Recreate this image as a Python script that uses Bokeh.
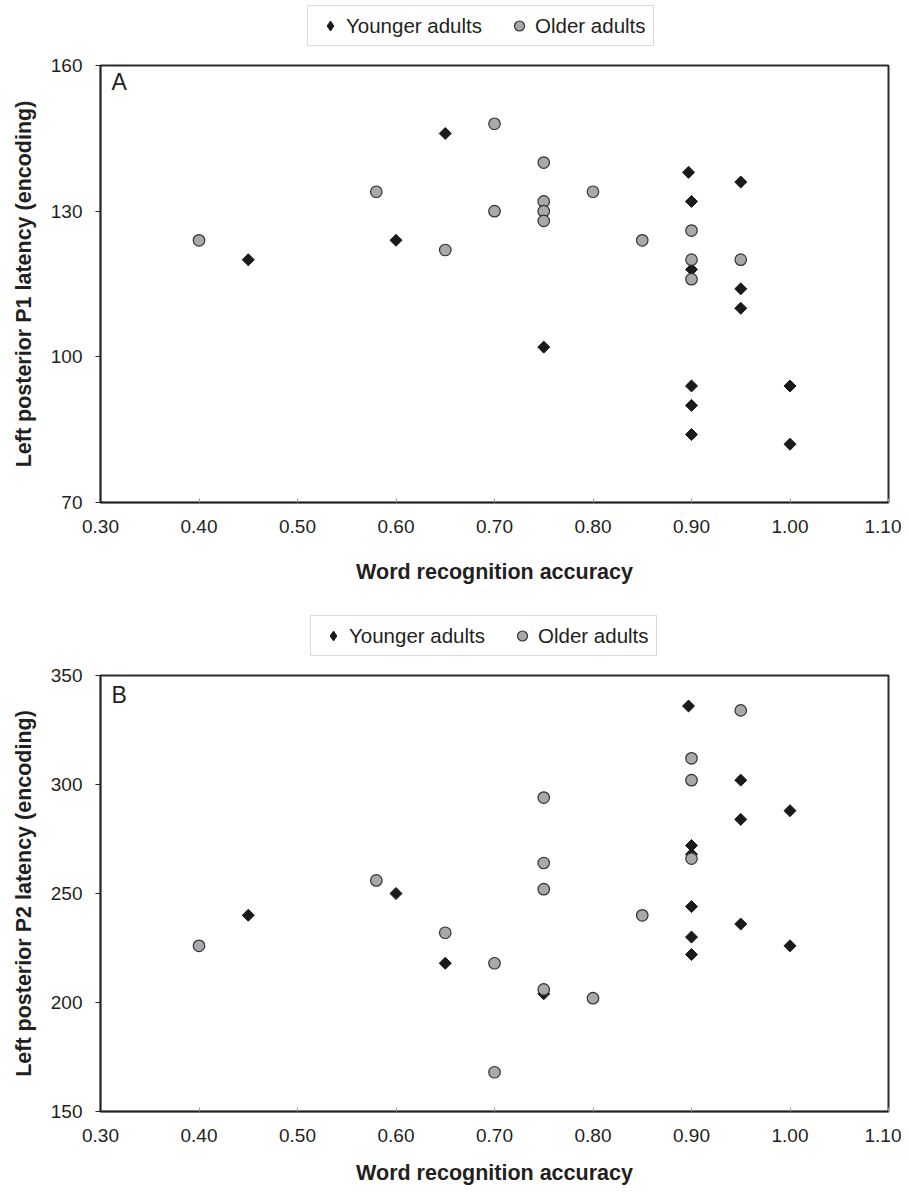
import math
from bokeh.plotting import figure
from bokeh.layouts import column
from bokeh.models import (Range1d, FixedTicker, NumeralTickFormatter, Legend,
                          LegendItem, Label)
from bokeh.embed import file_html
from bokeh.resources import INLINE

# ---------------- data ----------------
x_ticks = [0.30, 0.40, 0.50, 0.60, 0.70, 0.80, 0.90, 1.00, 1.10]
series_names = ["Younger adults", "Older adults"]

# Panel A: P1 latency
a_young_x = [0.45, 0.60, 0.65, 0.75, 0.897, 0.90, 0.90, 0.90, 0.90, 0.90, 0.95, 0.95, 0.95, 1.00, 1.00]
a_young_y = [120, 124, 146, 102, 138, 132, 118, 94, 90, 84, 136, 114, 110, 94, 82]
a_old_x = [0.40, 0.58, 0.65, 0.70, 0.70, 0.75, 0.75, 0.75, 0.75, 0.80, 0.85, 0.90, 0.90, 0.90, 0.95]
a_old_y = [124, 134, 122, 148, 130, 140, 132, 130, 128, 134, 124, 126, 120, 116, 120]
a_y_ticks = [70, 100, 130, 160]

# Panel B: P2 latency
b_young_x = [0.45, 0.60, 0.65, 0.75, 0.897, 0.90, 0.90, 0.90, 0.90, 0.90, 0.95, 0.95, 0.95, 1.00, 1.00]
b_young_y = [240, 250, 218, 204, 336, 272, 268, 244, 230, 222, 302, 284, 236, 288, 226]
b_old_x = [0.40, 0.58, 0.65, 0.70, 0.70, 0.75, 0.75, 0.75, 0.75, 0.80, 0.85, 0.90, 0.90, 0.90, 0.95]
b_old_y = [226, 256, 232, 218, 168, 294, 264, 252, 206, 202, 240, 312, 302, 266, 334]
b_y_ticks = [150, 200, 250, 300, 350]

FONT = "Liberation Sans"
TXT = "#231f20"
YOUNG_STYLE = dict(marker="square", size=8.5, angle=math.pi / 4,
                   fill_color="#1a1a1a", line_color="#1a1a1a", line_width=1)
OLD_STYLE = dict(marker="circle", size=11.5,
                 fill_color="#a7a9ac", line_color="#333333", line_width=1.2)
YOUNG_LEGEND_STYLE = dict(marker="diamond", size=11,
                          fill_color="#1a1a1a", line_color="#1a1a1a", line_width=1)


def make_legend_fig(height, loc, yx, yy, ox, oy):
    # strip that only holds the legend; its range keeps the points out of view
    f = figure(width=901, height=height, output_backend="svg", toolbar_location=None,
               x_axis_type=None, y_axis_type=None,
               x_range=Range1d(0, 1), y_range=Range1d(-2, -1),
               min_border=0, min_border_left=0, min_border_right=0,
               min_border_top=0, min_border_bottom=0)
    f.grid.visible = False
    f.outline_line_color = None
    f.background_fill_color = "white"
    f.border_fill_color = "white"
    ry = f.scatter(x=yx, y=yy, **YOUNG_LEGEND_STYLE)
    ro = f.scatter(x=ox, y=oy, **OLD_STYLE)
    leg = Legend(items=[LegendItem(label=series_names[0], renderers=[ry], index=0),
                        LegendItem(label=series_names[1], renderers=[ro], index=0)],
                 orientation="horizontal", location=loc,
                 padding=7, margin=0, spacing=22, glyph_width=30, glyph_height=25,
                 label_height=18, label_standoff=1, label_text_font=FONT,
                 label_text_font_size="20.5px", label_text_color=TXT,
                 border_line_color="#b5b5b5", border_line_width=1,
                 background_fill_color="white", background_fill_alpha=1.0)
    f.add_layout(leg, "center")
    return f


def make_panel(yx, yy, ox, oy, yticks, ylabel, letter, height, min_top, min_bottom,
               letter_y, x_label_standoff):
    p = figure(width=901, height=height, output_backend="svg", toolbar_location=None,
               x_range=Range1d(0.30, 1.10), y_range=Range1d(yticks[0], yticks[-1]),
               min_border_left=100, min_border_right=13,
               min_border_top=min_top, min_border_bottom=min_bottom)
    p.grid.visible = False
    p.outline_line_color = "#2b2b2b"
    p.outline_line_width = 2
    p.background_fill_color = "white"
    p.border_fill_color = "white"

    # x axis
    xa = p.xaxis[0]
    xa.ticker = FixedTicker(ticks=x_ticks)
    xa.formatter = NumeralTickFormatter(format="0.00")
    xa.major_tick_in = 4
    xa.major_tick_out = 0
    xa.major_tick_line_color = "#999999"
    xa.minor_tick_line_color = None
    xa.axis_line_color = "#222222"
    xa.axis_line_width = 1.5
    xa.major_label_text_font = FONT
    xa.major_label_text_font_size = "19px"
    xa.major_label_text_color = TXT
    xa.major_label_standoff = 17
    xa.axis_label = "Word recognition accuracy"
    xa.axis_label_text_font = FONT
    xa.axis_label_text_font_size = "21.5px"
    xa.axis_label_text_font_style = "bold"
    xa.axis_label_text_color = TXT
    xa.axis_label_standoff = x_label_standoff

    # y axis
    ya = p.yaxis[0]
    ya.ticker = FixedTicker(ticks=yticks)
    ya.major_tick_in = 0
    ya.major_tick_out = 5
    ya.major_tick_line_color = "#222222"
    ya.minor_tick_line_color = None
    ya.axis_line_color = "#222222"
    ya.axis_line_width = 1.5
    ya.major_label_text_font = FONT
    ya.major_label_text_font_size = "19px"
    ya.major_label_text_color = TXT
    ya.major_label_standoff = 13
    ya.axis_label = ylabel
    ya.axis_label_text_font = FONT
    ya.axis_label_text_font_size = "21.5px"
    ya.axis_label_text_font_style = "bold"
    ya.axis_label_text_color = TXT
    ya.axis_label_standoff = 12

    p.scatter(x=yx, y=yy, **YOUNG_STYLE)
    p.scatter(x=ox, y=oy, **OLD_STYLE)

    p.add_layout(Label(x=0.3112, y=letter_y, text=letter, text_font=FONT,
                       text_font_size="23px", text_color=TXT, text_baseline="top"))
    return p


legA = make_legend_fig(48, (207, 2), a_young_x, a_young_y, a_old_x, a_old_y)
pA = make_panel(a_young_x, a_young_y, a_old_x, a_old_y, a_y_ticks,
                "Left posterior P1 latency (encoding)", "A", 548, 17, 94, 159.2, 24)
legB = make_legend_fig(62, (210, 2), b_young_x, b_young_y, b_old_x, b_old_y)
pB = make_panel(b_young_x, b_young_y, b_old_x, b_old_y, b_y_ticks,
                "Left posterior P2 latency (encoding)", "B", 530, 17, 77, 347.0, 16)

layout = column(legA, pA, legB, pB, spacing=0)
open("out.html", "w").write(file_html(layout, INLINE))
